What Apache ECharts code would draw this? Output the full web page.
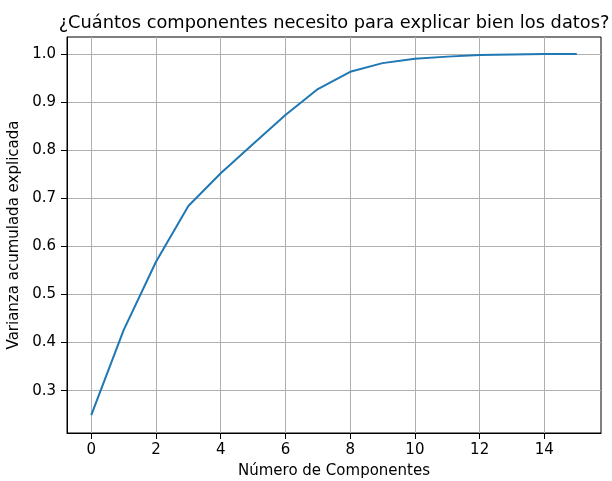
<!DOCTYPE html>
<html>
<head>
<meta charset="utf-8">
<script src="https://cdn.jsdelivr.net/npm/echarts@6/dist/echarts.min.js"></script>
<style>html,body{margin:0;padding:0;background:#fff;}#c{width:612px;height:481px;}</style>
</head>
<body>
<div id="c"></div>
<script>
const components = [0,1,2,3,4,5,6,7,8,9,10,11,12,13,14,15];
const cumVariance = [0.249,0.426,0.568,0.684,0.752,0.813,0.873,0.927,0.963,0.981,0.990,0.9945,0.998,0.999,1.0,1.0];
const xTicks = [0,2,4,6,8,10,12,14];
const yTicks = [0.3,0.4,0.5,0.6,0.7,0.8,0.9,1.0];
const titleText = '¿Cuántos componentes necesito para explicar bien los datos?';
const xName = 'Número de Componentes';
const yName = 'Varianza acumulada explicada';

const font = 'DejaVu Sans';
const chart = echarts.init(document.getElementById('c'), null, {renderer:'canvas'});
chart.setOption({
  animation:false,
  backgroundColor:'#fff',
  title:{text:titleText,left:329,textAlign:'center',top:9,textStyle:{fontFamily:font,fontSize:17.8,fontWeight:'normal',color:'#000'}},
  grid:{left:67,right:11,top:37,bottom:48,show:true,borderColor:'#000',borderWidth:1,backgroundColor:'transparent',outerBoundsMode:'none',containLabel:false},
  xAxis:{type:'value',min:-0.75,max:15.75,
    name:xName,nameLocation:'middle',nameGap:31,nameTextStyle:{fontFamily:font,fontSize:15,color:'#000'},
    axisLine:{show:true,onZero:false,lineStyle:{color:'#000',width:1}},
    axisTick:{show:true,length:6,customValues:xTicks,lineStyle:{color:'#000'}},
    axisLabel:{customValues:xTicks,margin:10,fontFamily:font,fontSize:15,color:'#000'},
    splitLine:{show:true,lineStyle:{color:'#b0b0b0',width:1}}},
  yAxis:{type:'value',min:0.212,max:1.0353,
    name:yName,nameLocation:'middle',nameGap:33,nameRotate:90,nameTextStyle:{fontFamily:font,fontSize:15,color:'#000'},
    axisLine:{show:true,onZero:false,lineStyle:{color:'#000',width:1}},
    axisTick:{show:true,length:6,customValues:yTicks,lineStyle:{color:'#000'}},
    axisLabel:{customValues:yTicks,margin:11,fontFamily:font,fontSize:15,color:'#000',formatter:v=>v.toFixed(1)},
    splitLine:{show:true,lineStyle:{color:'#b0b0b0',width:1}}},
  series:[{type:'line',data:components.map((c,i)=>[c,cumVariance[i]]),showSymbol:false,symbol:'none',
    lineStyle:{color:'#1f77b4',width:2},itemStyle:{color:'#1f77b4'}}]
});
</script>
</body>
</html>
